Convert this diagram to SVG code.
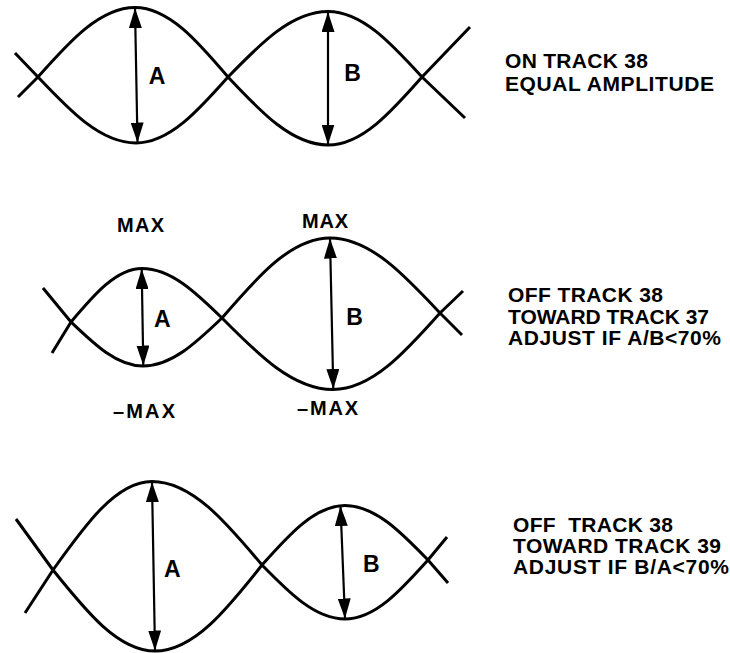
<svg xmlns="http://www.w3.org/2000/svg" width="730" height="653" viewBox="0 0 730 653">
<style>
.wave{fill:none;stroke:#000;stroke-width:3;stroke-linejoin:round;stroke-linecap:butt}
.dim{fill:none;stroke:#000;stroke-width:2.2;marker-start:url(#ah);marker-end:url(#ah)}
.lbl{font-family:"Liberation Sans",Arial,Helvetica,sans-serif;font-weight:bold;font-size:23px;fill:#000;text-anchor:middle}
.max{font-family:"Liberation Sans",Arial,Helvetica,sans-serif;font-weight:bold;font-size:20px;fill:#000;text-anchor:middle}
.note{font-family:"Liberation Sans",Arial,Helvetica,sans-serif;font-weight:bold;font-size:21px;fill:#000;white-space:pre}
</style>
<defs>
<marker id="ah" viewBox="0 0 20 13" markerWidth="20" markerHeight="13" refX="20" refY="6.5" orient="auto-start-reverse" markerUnits="userSpaceOnUse">
<path d="M0,0 L20,6.5 L0,13 Z" fill="#000"/>
</marker>
</defs>

<g id="panel-on-track">
<g id="top-waves">
<path class="wave" d="M15,53 L38,77 C70,110.8 100.5,143 136,143 C169.3,143 198,110.8 228,77 C260.6,43.4 291.8,11.5 328,11.5 C362,11.5 391.3,43.4 422,77 L465,118"/>
<path class="wave" d="M18,97 L38,77 C69.6,41.4 99.9,7.5 135,7.5 C168.7,7.5 197.7,41.4 228,77 C260.6,111.8 291.8,145 328,145 C362,145 391.3,111.8 422,77 L470,27"/>
</g>
<g id="top-arrows">
<line class="dim" x1="135" y1="8" x2="137.5" y2="142.5"/>
<line class="dim" x1="328" y1="12" x2="328" y2="144.5"/>
</g>
<text class="lbl" x="157" y="83.5">A</text>
<text class="lbl" x="352.5" y="81">B</text>
</g>

<g id="panel-toward-37">
<g id="mid-waves">
<path class="wave" d="M43,288 L71,322 C94.5,344.5 116.9,366 143,366 C171.6,366 196.2,342.6 222,318 C257.2,277 290.9,238 330,238 C369.8,238 404.1,274.6 440,313 L462,335"/>
<path class="wave" d="M52,353 L71,322 C94.2,294.6 116.3,268.5 142,268.5 C171,268.5 195.9,292.6 222,318 C258.2,354.6 292.8,389.5 333,389.5 C371.7,389.5 405.1,352.2 440,313 L463,291"/>
</g>
<g id="mid-arrows">
<line class="dim" x1="141.7" y1="269" x2="143.3" y2="365.5"/>
<line class="dim" x1="330" y1="238.5" x2="333.3" y2="389"/>
</g>
<text class="lbl" x="162.4" y="327.3">A</text>
<text class="lbl" x="354.5" y="325">B</text>
<text class="max" x="140.5" y="231.5" textLength="47" lengthAdjust="spacing">MAX</text>
<text class="max" x="325" y="228" textLength="46" lengthAdjust="spacing">MAX</text>
<text class="max" x="144" y="417.5" textLength="62" lengthAdjust="spacing">–MAX</text>
<text class="max" x="327.5" y="415" textLength="61" lengthAdjust="spacing">–MAX</text>
</g>

<g id="panel-toward-39">
<g id="bot-waves">
<path class="wave" d="M16,519 L53,570 C86.3,611.5 118.1,651 155,651 C193.7,651 227.1,609.1 262,565 C289.1,534.5 315,505.5 345,505.5 C375,505.5 400.9,532.1 428,560 L448,583"/>
<path class="wave" d="M25,613 L53,570 C85.3,524.7 116.2,481.5 152,481.5 C191.8,481.5 226.1,522.2 262,565 C289.1,592.7 315,619 345,619 C375,619 400.9,590.2 428,560 L447,537"/>
</g>
<g id="bot-arrows">
<line class="dim" x1="152" y1="482" x2="155" y2="650.5"/>
<line class="dim" x1="340.5" y1="506" x2="345" y2="618.5"/>
</g>
<text class="lbl" x="172.3" y="576.7">A</text>
<text class="lbl" x="371.3" y="571.7">B</text>
</g>

<g id="note-on-track">
<text class="note" x="505" y="68" textLength="143" lengthAdjust="spacing">ON TRACK 38</text>
<text class="note" x="505" y="91" textLength="209" lengthAdjust="spacing">EQUAL AMPLITUDE</text>
</g>
<g id="note-toward-37">
<text class="note" x="508" y="302" textLength="155" lengthAdjust="spacing">OFF TRACK 38</text>
<text class="note" x="508" y="323.5" textLength="201" lengthAdjust="spacing">TOWARD TRACK 37</text>
<text class="note" x="508" y="345" textLength="213" lengthAdjust="spacing">ADJUST IF A/B&lt;70%</text>
</g>
<g id="note-toward-39">
<text class="note" x="513" y="532" textLength="160" lengthAdjust="spacing">OFF  TRACK 38</text>
<text class="note" x="513" y="553" textLength="208" lengthAdjust="spacing">TOWARD TRACK 39</text>
<text class="note" x="513" y="574" textLength="216" lengthAdjust="spacing">ADJUST IF B/A&lt;70%</text>
</g>
</svg>
